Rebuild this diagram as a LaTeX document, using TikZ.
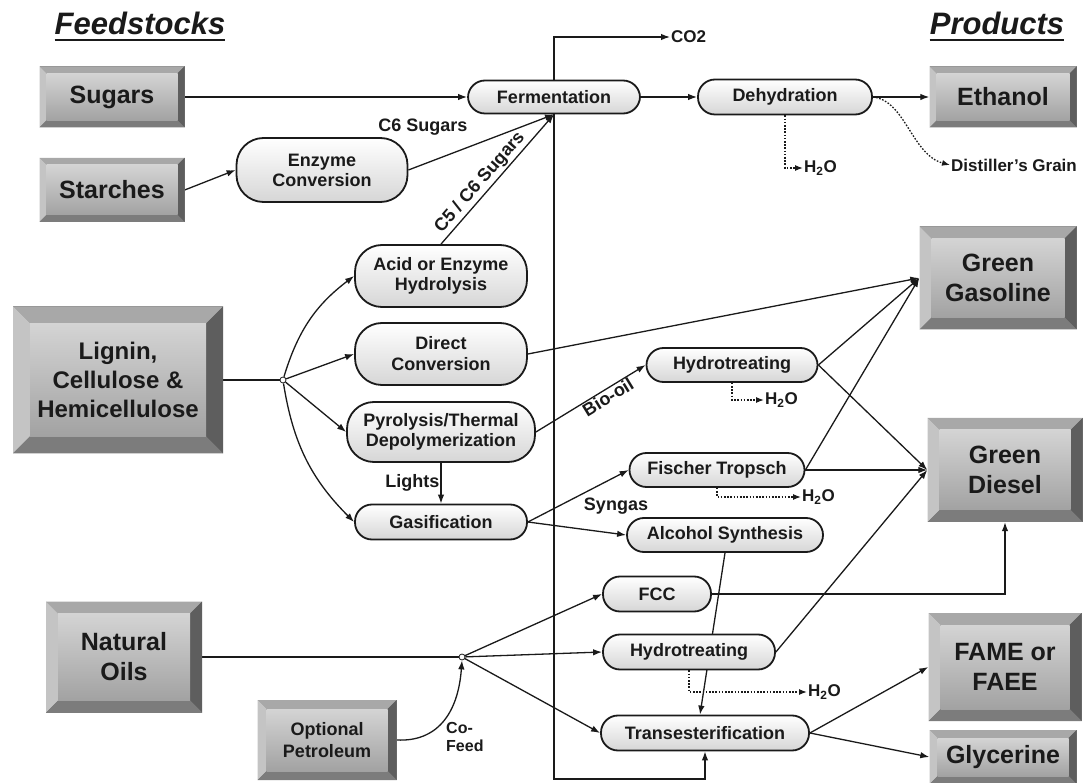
\documentclass[tikz,border=0pt]{standalone}
\usepackage{fontspec}
\setmainfont{Liberation Sans}
\usetikzlibrary{arrows.meta,calc,backgrounds}
\definecolor{ink}{HTML}{1A1A1A}
\definecolor{procgray}{HTML}{D6D6D6}
\definecolor{bvtop}{HTML}{A8A8A8}
\definecolor{bvleft}{HTML}{C4C4C4}
\definecolor{bvright}{HTML}{5E5E5E}
\definecolor{bvbot}{HTML}{7C7C7C}
\definecolor{facetop}{HTML}{D4D4D4}
\definecolor{facemid}{HTML}{F6F6F6}
\definecolor{facebot}{HTML}{A2A2A2}
\tikzset{
  proc/.style={draw=ink, line width=1.8pt, rounded corners=#1, top color=white, bottom color=procgray,
    align=center, font=\bfseries\fontsize{18}{20}\selectfont, text=ink, inner sep=1pt},
  proc/.default=17pt,
  bevbox/.style={inner sep=0pt, align=center, text=ink, fill=bvbot,
    font=\bfseries\fontsize{25}{30}\selectfont,
    path picture={
      \fill[bvtop] (path picture bounding box.north west) -- (path picture bounding box.north east)
        -- ([shift={(-#1,-#1)}]path picture bounding box.north east)
        -- ([shift={(#1,-#1)}]path picture bounding box.north west) -- cycle;
      \fill[bvleft] (path picture bounding box.north west) -- ([shift={(#1,-#1)}]path picture bounding box.north west)
        -- ([shift={(#1,#1)}]path picture bounding box.south west) -- (path picture bounding box.south west) -- cycle;
      \fill[bvright] (path picture bounding box.north east) -- ([shift={(-#1,-#1)}]path picture bounding box.north east)
        -- ([shift={(-#1,#1)}]path picture bounding box.south east) -- (path picture bounding box.south east) -- cycle;
      \fill[bvbot] (path picture bounding box.south west) -- ([shift={(#1,#1)}]path picture bounding box.south west)
        -- ([shift={(-#1,#1)}]path picture bounding box.south east) -- (path picture bounding box.south east) -- cycle;
      \shade[top color=facetop, middle color=facemid, bottom color=facebot]
        ([shift={(#1,-#1)}]path picture bounding box.north west) rectangle ([shift={(-#1,#1)}]path picture bounding box.south east);
    }},
  arr/.style={draw=ink, line width=1.3pt, -{Latex[length=9pt,width=6.5pt]}},
  ln/.style={draw=ink, line width=1.3pt},
  dotarr/.style={draw=ink, line width=1.3pt, dash pattern=on 1.6pt off 1.6pt, -{Latex[length=8pt,width=6pt]}},
  lbl/.style={font=\bfseries\fontsize{17}{19}\selectfont, text=ink, inner sep=1pt},
  junc/.style={circle, draw=ink, fill=white, inner sep=0pt, minimum size=6pt, line width=0.8pt},
  ttl/.style={font=\bfseries\itshape\fontsize{31}{31}\selectfont, text=ink, inner sep=0pt, anchor=base},
}
\begin{document}
\begin{tikzpicture}[x=1pt,y=-1pt]
\useasboundingbox (0,0) rectangle (1085,783);
\coordinate (bot) at (0,779);

% titles
\node[ttl] (tfeed) at (140,35) {Feedstocks};
\draw[ink, line width=2.5pt] ([yshift=-5pt]tfeed.base west) -- ([yshift=-5pt]tfeed.base east);
\node[ttl] (tprod) at (997,35) {Products};
\draw[ink, line width=2.5pt] ([yshift=-5pt]tprod.base west) -- ([yshift=-5pt]tprod.base east);

% feedstocks
\node[bevbox=7pt, minimum width=145, minimum height=61] (sugars) at (112,97) {Sugars};
\node[bevbox=7pt, minimum width=145, minimum height=64] (starches) at (112,190) {Starches};
\node[bevbox=17pt, minimum width=210, minimum height=147, font=\bfseries\fontsize{24}{29}\selectfont] (lignin) at (118,380) {Lignin,\\Cellulose \&\\Hemicellulose};
\node[bevbox=12pt, minimum width=156, minimum height=111] (natoils) at (124,657) {Natural\\Oils};
\node[bevbox=9pt, minimum width=139, minimum height=80, font=\bfseries\fontsize{18}{22}\selectfont] (petro) at (327,740) {Optional\\Petroleum};

% products
\node[bevbox=7pt, minimum width=147, minimum height=61] (ethanol) at (1003,97) {Ethanol};
\node[bevbox=12pt, minimum width=157, minimum height=103] (gas) at (998,278) {Green\\Gasoline};
\node[bevbox=12pt, minimum width=155, minimum height=104] (diesel) at (1005,470) {Green\\Diesel};
\node[bevbox=12pt, minimum width=153, minimum height=108] (fame) at (1005,667) {FAME or\\FAEE};
\node[bevbox=8pt, minimum width=147, minimum height=54] (glyc) at (1003,757) {Glycerine};

% processes
\node[proc, minimum width=172, minimum height=33] (ferm) at (554,97) {Fermentation};
\node[proc, minimum width=174, minimum height=35] (dehyd) at (785,97) {Dehydration};
\node[proc=27pt, minimum width=171, minimum height=64] (enzyme) at (322,170) {Enzyme\\Conversion};
\node[proc=27pt, minimum width=172, minimum height=62] (acid) at (441,276) {Acid or Enzyme\\Hydrolysis};
\node[proc=27pt, minimum width=172, minimum height=62, font=\bfseries\fontsize{18}{21}\selectfont] (direct) at (441,354) {Direct\\Conversion};
\node[proc=27pt, minimum width=188, minimum height=60] (pyro) at (441,432) {Pyrolysis/Thermal\\Depolymerization};
\node[proc, minimum width=172, minimum height=35] (gasif) at (441,522) {Gasification};
\node[proc, minimum width=171, minimum height=34] (hyd1) at (732,365) {Hydrotreating};
\node[proc, minimum width=175, minimum height=34] (ft) at (717,470) {Fischer Tropsch};
\node[proc, minimum width=196, minimum height=34] (alc) at (725,535) {Alcohol Synthesis};
\node[proc, minimum width=108, minimum height=35] (fcc) at (657,594) {FCC};
\node[proc, minimum width=172, minimum height=35] (hyd2) at (689,652) {Hydrotreating};
\node[proc, minimum width=208, minimum height=35] (trans) at (705,733) {Transesterification};

% junctions
\node[junc] (ljn) at (283,380) {};
\node[junc] (njn) at (462,657) {};

% outputs and labels
\node[lbl, anchor=west] (co2) at (670,37) {CO2};
\node[lbl, anchor=west] (h2oA) at (803,168) {H\textsubscript{2}O};
\node[lbl, anchor=west] (dg) at (950,165) {Distiller's Grain};
\node[lbl, anchor=west] (h2oB) at (764,400) {H\textsubscript{2}O};
\node[lbl, anchor=west] (h2oC) at (801,497) {H\textsubscript{2}O};
\node[lbl, anchor=west] (h2oD) at (807,692) {H\textsubscript{2}O};
\node[lbl, font=\bfseries\fontsize{18}{20}\selectfont] (c6lbl) at (423,127) {C6 Sugars};
\node[lbl, font=\bfseries\fontsize{18}{20}\selectfont] (synlbl) at (616,506) {Syngas};
\node[lbl, font=\bfseries\fontsize{16}{18}\selectfont, align=left, anchor=west] (cofeed) at (445,737) {Co-\\Feed};

\begin{scope}[on background layer]
\fill[white] (0,0) rectangle (1085,783);
\draw[arr] (sugars.east) -- (ferm.west);
\draw[arr] (starches.east) -- (enzyme.west);
\draw[arr] (enzyme.east) -- (ferm.south);
\draw[arr] (acid.north) -- node[lbl, font=\bfseries\fontsize{18}{20}\selectfont, sloped, above, pos=0.42, inner sep=2pt]{C5 / C6 Sugars} (ferm.south);
\draw[arr] (ferm.east) -- (dehyd.west);
\draw[arr] (dehyd.east) -- (ethanol.west);
\draw[arr] (ferm.north) |- (co2.west);
\draw[dotarr] (dehyd.south) |- (h2oA.west);
\draw[dotarr] (dehyd.east) .. controls (905,100) and (912,155) .. (dg.west);
\draw[ln] (lignin.east) -- (ljn);
\draw[arr] (ljn) to[bend left=18] (acid.west);
\draw[arr] (ljn) -- (direct.west);
\draw[arr] (ljn) -- (pyro.west);
\draw[arr] (ljn) to[bend right=18] (gasif.west);
\draw[arr] (pyro.south) -- node[lbl, font=\bfseries\fontsize{18}{20}\selectfont, left]{Lights} (gasif.north);
\draw[arr] (pyro.east) -- node[lbl, font=\bfseries\fontsize{18}{20}\selectfont, sloped, below, pos=0.62, inner sep=0.5pt]{Bio-oil} (hyd1.west);
\draw[arr] (direct.east) -- (gas.west);
\draw[arr] (gasif.east) -- (ft.west);
\draw[arr] (gasif.east) -- (alc.west);
\draw[dotarr] (hyd1.south) |- (h2oB.west);
\draw[arr] (hyd1.east) -- (gas.west);
\draw[arr] (hyd1.east) -- (diesel.west);
\draw[arr] (ft.east) -- (gas.west);
\draw[arr] (ft.east) -- (diesel.west);
\draw[dotarr] (ft.south) |- (h2oC.west);
\draw[arr] (alc.south) -- ([xshift=-5pt]trans.north);
\draw[ln] (natoils.east) -- (njn);
\draw[arr] (petro.east) .. controls (436,742) and (458,715) .. (njn.south);
\draw[arr] (njn) -- (fcc.west);
\draw[arr] (njn) -- (hyd2.west);
\draw[arr] (njn) -- (trans.west);
\draw[arr] (hyd2.east) -- (diesel.west);
\draw[arr] (fcc.east) -| (diesel.south);
\draw[dotarr] (hyd2.south) |- (h2oD.west);
\draw[arr] (trans.east) -- (fame.west);
\draw[arr] (trans.east) -- (glyc.west);
\draw[arr] (ferm.south) -- (ferm.south |- bot) -| (trans.south);
\end{scope}
\end{tikzpicture}
\end{document}
